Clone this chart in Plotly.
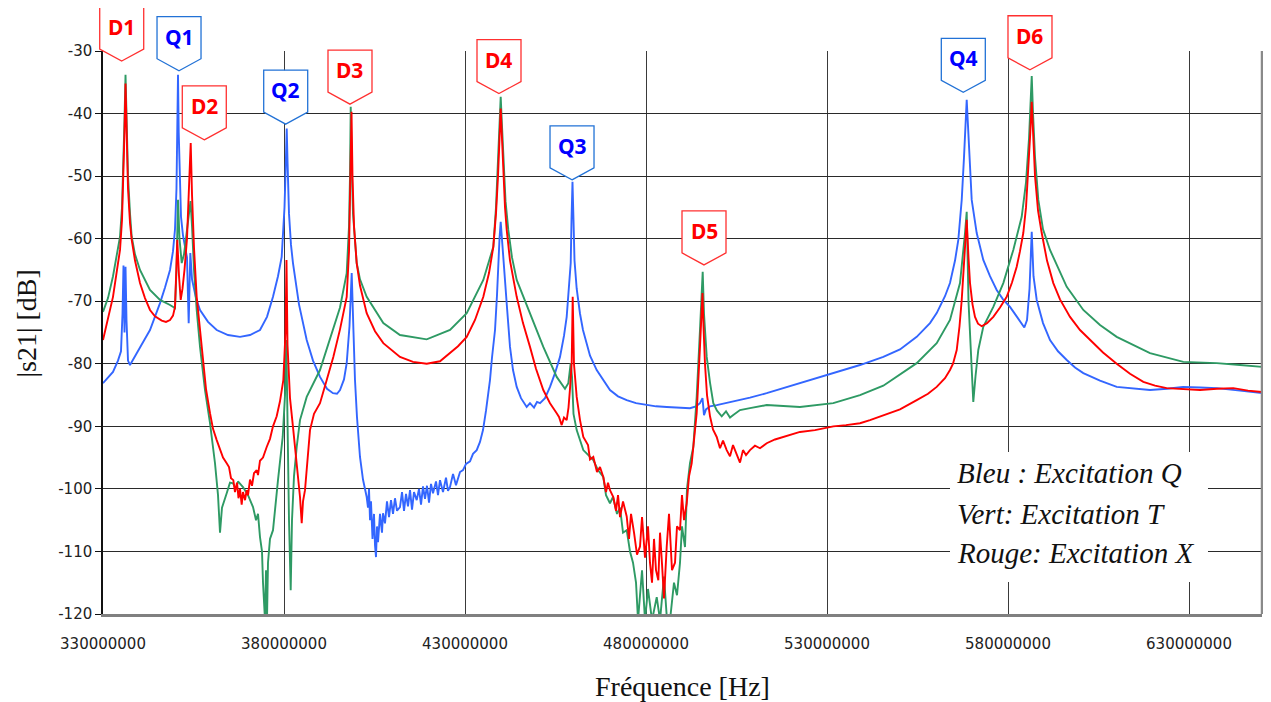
import plotly.graph_objects as go

# ---------------- data (frequency in MHz, level in dB) ----------------
blue_f = [330.00, 331.38, 332.76, 334.14, 334.97, 335.39, 335.66, 335.94, 336.22, 336.49, 336.91, 337.46, 338.29, 339.39,
          340.22, 341.60, 342.98, 344.36, 345.75, 347.13, 348.51, 349.34, 349.89, 350.30, 350.52, 350.72, 350.91, 351.22,
          351.55, 352.10, 352.65, 353.20, 353.67, 354.12, 354.59, 355.69, 356.80, 359.01, 361.41, 364.53, 367.85, 370.61,
          373.37, 375.30, 376.96, 378.34, 379.36, 380.14, 380.50, 380.75, 380.99, 381.38, 381.93, 382.48, 384.14, 386.27,
          388.01, 389.94, 391.88, 393.54, 394.64, 395.47, 396.57, 397.32, 398.09, 398.70, 399.20, 399.61, 400.16, 400.99,
          401.82, 402.84, 403.20, 403.48, 403.76, 404.03, 404.45, 404.86, 405.14, 405.41, 405.69, 405.97, 406.52, 407.07,
          407.35, 407.90, 408.45, 409.01, 409.56, 410.11, 410.66, 411.22, 412.04, 412.60, 413.15, 413.70, 414.25, 414.81,
          415.36, 415.91, 416.66, 417.29, 417.85, 418.40, 418.95, 419.50, 420.06, 420.61, 421.16, 421.99, 422.54, 423.09,
          423.92, 424.75, 425.30, 425.86, 426.69, 427.51, 428.62, 429.45, 430.28, 431.38, 432.21, 433.23, 434.14, 434.97,
          435.80, 436.35, 436.90, 437.46, 438.29, 438.84, 439.12, 439.53, 439.86, 440.22, 440.64, 441.60, 442.43, 443.26,
          444.28, 445.47, 447.04, 447.95, 449.06, 449.89, 450.72, 452.10, 453.48, 454.86, 456.24, 457.35, 458.09, 458.73,
          459.20, 459.42, 459.69, 459.97, 460.25, 460.85, 461.77, 462.59, 464.53, 466.38, 468.12, 470.05, 472.27, 474.67,
          477.24, 480.19, 482.76, 485.72, 488.84, 492.15, 493.81, 494.91, 495.60, 496.02, 496.57, 497.68, 499.53, 501.82,
          504.03, 508.72, 513.34, 517.85, 522.53, 527.24, 531.65, 535.24, 539.11, 545.55, 550.16, 554.78, 558.45, 560.30,
          562.59, 563.97, 565.36, 566.27, 567.21, 567.84, 568.26, 568.59, 568.95, 569.36, 569.97, 571.35, 573.17, 575.02,
          576.87, 578.62, 580.55, 582.48, 584.50, 585.25, 585.94, 586.55, 587.04, 587.93, 589.67, 591.60, 593.81, 596.22,
          598.51, 600.80, 605.41, 610.02, 614.53, 619.22, 623.92, 628.34, 633.04, 637.65, 644.09, 650.16]
blue_db = [-83.1, -82.2, -81.3, -79.5, -78.0, -72.0, -64.3, -75.0, -64.5, -73.0, -79.5, -80.2, -79.4, -78.3,
           -77.3, -76.0, -74.6, -72.6, -70.3, -67.8, -65.0, -62.0, -58.5, -52.0, -43.0, -33.8, -43.0, -52.0,
           -56.5, -59.5, -61.5, -63.0, -73.5, -62.3, -66.5, -69.5, -71.4, -73.3, -74.6, -75.4, -75.7, -75.4,
           -74.6, -72.5, -69.3, -66.0, -62.9, -55.0, -48.0, -42.4, -48.0, -56.0, -61.0, -63.9, -70.5, -76.2,
           -79.5, -82.1, -84.0, -84.7, -84.8, -84.2, -82.5, -79.9, -74.0, -65.5, -75.0, -82.6, -88.5, -94.9,
           -98.5, -101.3, -103.0, -100.0, -105.0, -102.0, -108.0, -104.0, -109.0, -110.9, -106.0, -108.5, -104.0, -107.0,
           -103.9, -105.5, -102.0, -104.5, -101.8, -104.0, -101.5, -103.5, -102.9, -100.5, -103.5, -100.8, -102.8, -100.2,
           -103.3, -100.5, -101.8, -100.0, -102.5, -99.6, -101.6, -99.5, -102.2, -99.2, -100.7, -98.8, -101.0, -98.6,
           -100.5, -98.2, -100.3, -99.7, -97.6, -99.4, -97.3, -97.0, -96.0, -95.6, -94.4, -93.8, -92.5, -90.6,
           -87.5, -85.0, -82.6, -79.0, -74.6, -69.0, -63.9, -60.0, -57.3, -60.5, -63.9, -71.0, -77.3, -81.0,
           -83.7, -85.5, -86.9, -86.3, -87.0, -86.1, -86.3, -85.5, -83.7, -81.5, -78.9, -75.5, -72.5, -68.0,
           -63.9, -57.0, -50.9, -57.0, -63.5, -68.0, -72.0, -74.6, -78.7, -81.0, -82.5, -84.2, -85.2, -85.8,
           -86.3, -86.6, -86.8, -86.9, -87.0, -87.1, -86.8, -86.3, -85.5, -88.2, -87.3, -86.8, -86.6, -86.3,
           -86.1, -85.4, -84.7, -83.9, -83.1, -82.3, -81.5, -80.9, -80.2, -78.9, -77.7, -75.7, -73.5, -71.9,
           -69.2, -67.1, -63.5, -60.2, -53.8, -47.0, -42.0, -37.8, -42.0, -47.0, -53.8, -59.1, -63.4, -66.0,
           -68.2, -69.7, -70.9, -72.5, -74.2, -73.0, -68.0, -58.9, -66.0, -69.8, -73.5, -76.2, -78.0, -79.4,
           -80.6, -81.5, -82.7, -83.7, -84.0, -84.2, -84.0, -83.7, -83.8, -83.9, -84.3, -84.7]

green_f = [330.00, 331.38, 332.76, 333.87, 334.70, 335.25, 335.66, 335.94, 336.22, 336.49, 336.91, 337.46, 337.93, 338.84,
           340.22, 342.98, 345.75, 348.51, 349.89, 350.30, 350.72, 351.13, 351.74, 352.38, 353.20, 353.76, 354.17, 354.59,
           355.14, 355.88, 356.80, 358.18, 359.56, 360.94, 361.77, 362.32, 362.87, 364.17, 365.08, 365.91, 366.74, 367.29,
           368.67, 370.06, 371.44, 372.27, 372.82, 373.37, 373.92, 374.20, 374.75, 375.03, 375.30, 375.58, 376.13, 376.96,
           377.51, 378.34, 379.64, 380.28, 380.64, 380.97, 381.38, 381.85, 382.21, 382.76, 383.51, 384.42, 386.27, 389.94,
           393.54, 395.47, 397.32, 397.96, 398.23, 398.43, 398.70, 399.06, 400.08, 400.99, 402.84, 407.43, 412.04, 419.42,
           425.86, 430.47, 435.06, 437.82, 438.56, 439.12, 439.53, 439.86, 440.22, 440.64, 441.19, 441.96, 442.98, 444.28,
           447.95, 451.63, 455.33, 457.62, 458.54, 459.20, 459.55, 459.97, 460.85, 462.68, 465.44, 466.74, 468.20, 468.95,
           470.05, 470.88, 471.99, 472.82, 473.65, 474.67, 475.58, 476.41, 477.24, 477.79, 478.90, 479.72, 480.55, 481.66,
           482.96, 483.87, 484.97, 485.80, 486.63, 487.73, 488.56, 489.39, 489.94, 490.77, 491.32, 492.15, 493.06, 494.00,
           494.91, 495.33, 495.66, 496.02, 496.77, 497.68, 498.59, 499.61, 500.91, 502.10, 503.20, 504.11, 505.96, 508.72,
           513.34, 522.53, 531.73, 539.11, 545.55, 554.78, 560.30, 563.97, 566.74, 568.12, 568.59, 569.08, 569.78, 570.41,
           571.02, 571.79, 573.17, 575.94, 578.70, 581.46, 583.78, 584.97, 585.80, 586.21, 586.55, 586.91, 587.46, 588.37,
           589.67, 591.60, 596.22, 600.80, 605.41, 610.02, 614.53, 619.22, 628.42, 637.65, 644.09, 650.16]
green_db = [-71.7, -69.5, -66.0, -62.0, -59.7, -55.0, -48.0, -41.0, -33.8, -42.0, -50.0, -56.0, -59.7, -62.5,
            -65.0, -68.2, -69.8, -70.6, -71.1, -65.0, -53.8, -60.0, -63.9, -62.5, -58.5, -55.0, -54.0, -58.0,
            -65.0, -71.4, -77.3, -84.2, -89.5, -95.9, -101.0, -107.0, -103.0, -100.7, -99.0, -99.1, -100.0, -98.8,
            -99.7, -101.0, -102.9, -105.0, -104.0, -107.7, -110.0, -115.0, -121.0, -113.0, -121.0, -111.8, -108.0, -106.6,
            -103.0, -98.6, -91.7, -85.0, -76.2, -90.0, -105.0, -116.2, -105.0, -98.0, -93.3, -89.0, -85.3, -81.0,
            -74.6, -71.0, -65.5, -58.0, -50.0, -38.9, -48.0, -56.0, -63.9, -66.5, -69.3, -73.5, -75.4, -76.1,
            -74.6, -71.9, -66.6, -61.3, -55.0, -48.0, -42.0, -37.3, -42.0, -48.0, -54.0, -58.6, -63.0, -66.6,
            -71.9, -77.3, -82.1, -84.0, -83.1, -79.9, -82.0, -88.0, -90.6, -93.8, -95.4, -97.0, -98.1, -101.0,
            -102.3, -101.3, -104.0, -103.0, -107.0, -106.6, -110.0, -111.8, -115.0, -121.0, -113.0, -121.0, -116.0, -121.0,
            -117.3, -121.0, -114.0, -121.0, -121.0, -115.0, -117.0, -111.8, -106.0, -109.3, -100.0, -95.9, -93.3, -85.3,
            -74.6, -69.0, -65.3, -72.0, -78.9, -83.0, -86.3, -87.5, -88.4, -87.6, -88.6, -88.2, -87.4, -87.1,
            -86.6, -86.9, -86.3, -85.0, -83.5, -79.9, -76.7, -73.0, -67.1, -59.1, -55.7, -70.0, -80.0, -86.1,
            -82.0, -77.8, -74.1, -70.9, -67.1, -61.8, -56.5, -51.0, -44.0, -38.0, -34.0, -40.0, -47.0, -53.8,
            -58.5, -61.8, -67.7, -71.4, -73.8, -75.7, -77.0, -78.3, -79.7, -79.9, -80.2, -80.5]

red_f = [330.00, 331.38, 332.76, 333.87, 334.70, 335.25, 335.66, 335.94, 336.22, 336.49, 336.91, 337.46, 337.93, 338.84,
         340.22, 341.60, 342.98, 344.36, 346.22, 347.40, 348.51, 349.34, 349.89, 350.25, 350.52, 351.00, 351.46, 351.96,
         352.51, 353.20, 353.76, 354.23, 354.59, 355.14, 355.88, 356.80, 357.71, 358.45, 359.56, 360.39, 361.41, 362.32,
         363.15, 364.17, 364.81, 365.36, 366.00, 366.46, 367.02, 367.43, 367.85, 368.31, 368.67, 369.23, 369.70, 370.06,
         370.61, 371.16, 371.71, 372.46, 372.82, 373.37, 374.20, 375.22, 376.13, 376.96, 377.98, 378.89, 379.81, 380.41,
         380.69, 380.97, 381.66, 382.57, 383.32, 384.42, 384.89, 385.25, 385.80, 386.35, 387.18, 388.29, 389.94, 391.60,
         393.62, 395.47, 397.32, 397.96, 398.37, 398.65, 398.92, 399.34, 400.08, 400.99, 402.84, 405.14, 407.43, 412.04,
         415.64, 419.42, 423.09, 425.86, 428.07, 430.47, 432.76, 435.06, 436.63, 437.82, 438.56, 439.12, 439.53, 439.86,
         440.22, 440.64, 441.05, 441.52, 442.43, 444.28, 446.02, 447.95, 449.61, 451.63, 453.48, 455.33, 455.97, 456.71,
         457.35, 458.09, 458.59, 459.00, 459.47, 459.75, 460.10, 460.85, 461.77, 462.68, 463.98, 464.53, 465.44, 466.46,
         467.29, 468.20, 468.95, 469.50, 470.05, 470.97, 471.71, 472.27, 472.82, 473.65, 474.67, 475.30, 475.86, 476.69,
         477.51, 478.34, 478.90, 479.72, 480.55, 481.10, 481.66, 482.21, 482.76, 483.40, 483.87, 484.42, 484.97, 485.72,
         486.35, 487.18, 488.01, 488.56, 489.39, 489.94, 490.50, 491.24, 491.88, 492.62, 493.25, 494.00, 494.91, 495.33,
         495.60, 495.88, 496.29, 496.85, 497.68, 498.50, 499.53, 500.44, 501.27, 502.29, 503.20, 504.03, 505.05, 505.96,
         506.79, 507.62, 508.72, 510.10, 511.49, 513.34, 515.63, 517.85, 519.77, 522.53, 526.68, 531.73, 535.24, 539.11,
         541.87, 545.55, 550.16, 554.78, 557.90, 560.30, 562.59, 563.97, 564.81, 565.83, 566.60, 567.21, 567.84, 568.26,
         568.59, 569.08, 569.50, 570.19, 570.88, 571.71, 572.73, 574.20, 575.94, 577.79, 579.64, 581.10, 582.40, 583.31,
         584.22, 584.97, 585.66, 586.16, 586.55, 586.91, 587.46, 588.29, 589.31, 590.77, 592.51, 594.36, 597.13, 599.89,
         602.65, 606.24, 610.02, 613.70, 617.38, 620.61, 623.84, 628.34, 633.04, 637.73, 642.24, 646.30, 650.16]
red_db = [-76.2, -72.5, -69.3, -65.0, -61.8, -57.0, -50.0, -43.0, -35.2, -44.0, -52.0, -57.5, -60.2, -63.5,
          -67.1, -69.5, -71.4, -72.4, -73.1, -73.3, -73.0, -72.3, -70.9, -65.0, -60.2, -66.0, -69.8, -68.0,
          -65.0, -60.0, -53.0, -44.7, -53.0, -61.5, -69.3, -75.0, -80.0, -84.0, -87.9, -90.4, -92.2, -93.5,
          -95.0, -95.9, -96.5, -98.3, -98.6, -100.5, -99.0, -101.5, -100.0, -102.5, -100.5, -101.8, -100.2, -101.0,
          -98.5, -99.5, -97.5, -97.0, -97.8, -95.5, -95.0, -93.3, -92.0, -90.0, -88.4, -86.0, -82.6, -75.0,
          -63.4, -77.0, -85.5, -90.6, -95.0, -101.3, -105.5, -102.0, -100.2, -96.0, -90.6, -88.0, -86.3, -83.0,
          -78.9, -74.5, -69.3, -62.0, -50.0, -39.7, -50.0, -58.0, -63.9, -67.5, -71.9, -74.8, -76.7, -78.9,
          -79.7, -80.0, -79.6, -78.3, -77.2, -75.7, -73.0, -69.3, -65.5, -61.3, -56.0, -50.0, -44.0, -39.2,
          -44.0, -50.0, -55.0, -58.6, -63.5, -69.3, -73.5, -77.3, -80.8, -84.2, -86.3, -87.9, -88.5, -89.8,
          -88.6, -89.0, -87.0, -84.0, -79.9, -69.3, -80.0, -85.3, -89.0, -91.7, -93.0, -95.3, -94.9, -97.3,
          -96.5, -98.1, -100.5, -99.0, -100.2, -101.3, -103.5, -101.0, -104.5, -102.0, -104.4, -108.0, -104.0, -107.0,
          -110.5, -109.2, -104.5, -111.0, -106.0, -111.8, -115.0, -108.0, -113.0, -114.6, -107.0, -112.0, -117.5, -109.2,
          -104.0, -113.0, -111.8, -106.0, -106.6, -101.0, -105.0, -102.3, -98.0, -95.9, -92.0, -87.9, -77.3, -72.0,
          -68.7, -74.0, -80.0, -85.0, -88.4, -90.5, -91.7, -93.5, -92.3, -93.8, -94.8, -93.0, -94.4, -95.8,
          -93.8, -94.6, -93.8, -93.1, -93.5, -92.7, -92.1, -91.7, -91.4, -90.9, -90.6, -90.0, -89.8, -89.5,
          -89.0, -88.2, -87.3, -85.8, -84.8, -83.7, -82.3, -81.0, -80.0, -77.8, -74.0, -69.8, -63.0, -59.0,
          -57.0, -63.0, -67.1, -70.5, -72.5, -73.6, -74.0, -73.5, -72.5, -71.0, -69.3, -67.0, -64.5, -62.0,
          -59.1, -55.0, -49.0, -43.0, -38.1, -43.0, -50.0, -55.5, -59.1, -63.5, -67.1, -69.7, -72.5, -74.6,
          -76.2, -78.2, -80.0, -81.6, -82.9, -83.5, -83.9, -84.1, -84.2, -84.0, -83.9, -84.3, -84.5]

# peak labels (tip position of each callout)
peak_labels = ["D1", "Q1", "D2", "Q2", "D3", "D4", "Q3", "D5", "Q4", "D6"]
peak_label_f = [335.17, 351.00, 357.98, 380.47, 398.23, 439.39, 459.56, 496.02, 567.65, 586.07]
peak_label_db = [-31.6, -33.15, -44.2, -41.7, -38.5, -36.8, -50.6, -64.2, -36.6, -33.0]

x_tick_vals_mhz = [330, 380, 430, 480, 530, 580, 630]
x_tick_text = ["330000000", "380000000", "430000000", "480000000", "530000000", "580000000", "630000000"]
y_tick_vals = [-120, -110, -100, -90, -80, -70, -60, -50, -40, -30]
y_tick_text = ["-120", "-110", "-100", "-90", "-80", "-70", "-60", "-50", "-40", "-30"]

legend_lines = ["Bleu : Excitation Q", "Vert: Excitation T", "Rouge: Excitation X"]

MHZ = 1e6
X_RANGE = [330.0, 650.16]
Y_RANGE = [-120.0, -30.0]


def to_paper_x(f):
    return (f - X_RANGE[0]) / (X_RANGE[1] - X_RANGE[0])


def to_paper_y(d):
    return (d - Y_RANGE[0]) / (Y_RANGE[1] - Y_RANGE[0])


fig = go.Figure()
for fs, ds, col in [(blue_f, blue_db, "#3366ff"), (green_f, green_db, "#2e9a64"), (red_f, red_db, "#ff0000")]:
    fig.add_trace(go.Scatter(x=[f * MHZ for f in fs], y=ds, mode="lines",
                             line=dict(color=col, width=1.9), showlegend=False, hoverinfo="skip"))

# callouts (paper-referenced so they are not clipped by the plot area)
for lab, f, d in zip(peak_labels, peak_label_f, peak_label_db):
    is_d = lab.startswith("D")
    border = "#ff3030" if is_d else "#2272d6"
    txt = "#ff0000" if is_d else "#0000ff"
    px, py = to_paper_x(f), to_paper_y(d)
    fig.add_shape(type="path", xref="paper", yref="paper", xsizemode="pixel", ysizemode="pixel",
                  xanchor=px, yanchor=py,
                  path="M0,0 L22,12 L22,54 L-22,54 L-22,12 Z",
                  line=dict(color=border, width=1.3), fillcolor="white", layer="above")
    fig.add_annotation(x=px, y=py, xref="paper", yref="paper", xanchor="center", yanchor="middle",
                       text="<b>%s</b>" % lab, showarrow=False,
                       yshift=34, font=dict(family="Noto Sans", size=21, color=txt))

# legend box
fig.add_shape(type="rect", xref="paper", yref="paper", x0=0.7308, x1=0.9534, y0=0.0568, y1=0.2877,
              line=dict(width=0), fillcolor="white", layer="above")
for line_txt, yy in zip(legend_lines, [0.2499, 0.1776, 0.1078]):
    fig.add_annotation(x=0.7351, y=yy, xref="paper", yref="paper", xanchor="left", yanchor="middle",
                       text="<i>%s</i>" % line_txt, showarrow=False,
                       font=dict(family="Liberation Serif", size=29, color="#111111"))

# right frame line
fig.add_shape(type="line", xref="paper", yref="paper", x0=1, x1=1, y0=0, y1=1,
              line=dict(color="#8a8a8a", width=2.5), layer="above")

# axis titles
fig.add_annotation(x=0.5, y=-0.128, xref="paper", yref="paper", text="Fréquence [Hz]", showarrow=False,
                   font=dict(family="Liberation Serif", size=28, color="#111111"), yanchor="middle")
fig.add_annotation(x=-0.066, y=0.515, xref="paper", yref="paper", text="|s21| [dB]", showarrow=False,
                   textangle=-90, font=dict(family="Liberation Serif", size=28, color="#111111"),
                   xanchor="center", yanchor="middle")

fig.update_layout(
    width=1263, height=694,
    margin=dict(l=95, r=9, t=43, b=88),
    paper_bgcolor="white", plot_bgcolor="white",
    xaxis=dict(range=[X_RANGE[0] * MHZ, X_RANGE[1] * MHZ], tickvals=[v * MHZ for v in x_tick_vals_mhz],
               ticktext=x_tick_text,
               showgrid=True, gridcolor="#3a3a3a", gridwidth=1, zeroline=False,
               showline=True, linecolor="#808080", linewidth=2.5, ticks="", ticklabelstandoff=14,
               tickfont=dict(family="DejaVu Sans", size=15, color="#222222")),
    yaxis=dict(range=Y_RANGE, tickvals=y_tick_vals, ticktext=y_tick_text,
               showgrid=True, gridcolor="#2a2a2a", gridwidth=1, zeroline=False,
               showline=True, linecolor="#111111", linewidth=1.5, ticks="outside", ticklen=6,
               tickcolor="#111111", tickfont=dict(family="DejaVu Sans", size=15, color="#222222")),
)

fig.write_html("out.html")
